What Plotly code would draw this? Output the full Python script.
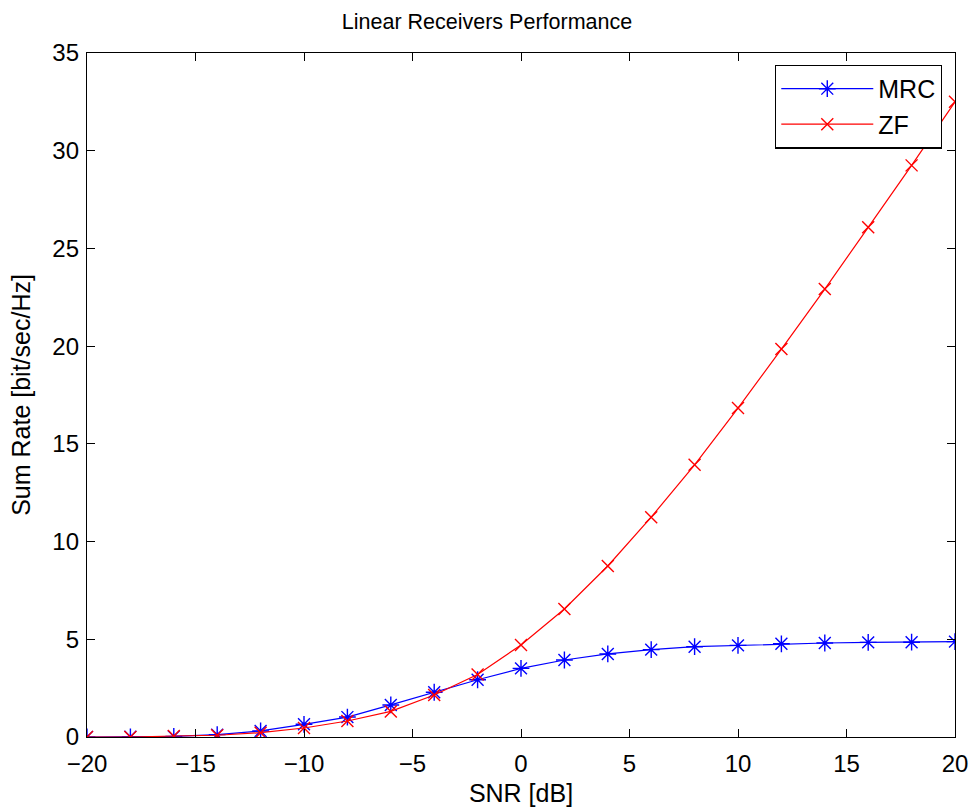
import plotly.graph_objects as go

# SNR sweep in dB
snr_db = [-20, -18, -16, -14, -12, -10, -8, -6, -4, -2, 0,
          2, 4, 6, 8, 10, 12, 14, 16, 18, 20]

# Sum rate [bit/sec/Hz] for each linear receiver
mrc_rate = [0.0, 0.01, 0.03, 0.12, 0.31, 0.65, 1.02, 1.64, 2.29, 2.93, 3.51,
            3.94, 4.25, 4.47, 4.62, 4.69, 4.77, 4.81, 4.84, 4.85, 4.88]
zf_rate = [0.0, 0.0, 0.05, 0.09, 0.22, 0.46, 0.82, 1.31, 2.15, 3.2, 4.71,
           6.55, 8.75, 11.25, 13.93, 16.83, 19.85, 22.92, 26.08, 29.25, 32.5]

x_ticks = [-20, -15, -10, -5, 0, 5, 10, 15, 20]
y_ticks = [0, 5, 10, 15, 20, 25, 30, 35]

FONT = "Liberation Sans, Arial, Helvetica, sans-serif"

fig = go.Figure()
fig.add_trace(go.Scatter(
    x=snr_db, y=mrc_rate, name="MRC", mode="lines+markers",
    line=dict(color="#0000ff", width=1.2),
    marker=dict(symbol="asterisk-open", size=14,
                line=dict(color="#0000ff", width=1.4)),
))
fig.add_trace(go.Scatter(
    x=snr_db, y=zf_rate, name="ZF", mode="lines+markers",
    line=dict(color="#ff0000", width=1.2),
    marker=dict(symbol="x-thin-open", size=12,
                line=dict(color="#ff0000", width=1.4)),
))

axis_common = dict(
    showgrid=False, zeroline=False, showline=True, linecolor="black",
    linewidth=1.3, mirror="ticks", ticks="inside", ticklen=8,
    tickcolor="black", automargin=False,
    tickfont=dict(family=FONT, size=24, color="black"),
)

fig.update_layout(
    width=974, height=810,
    margin=dict(l=87, r=19, t=53, b=73),
    paper_bgcolor="white", plot_bgcolor="white",
    title=dict(text="Linear Receivers Performance", x=0.5, xanchor="center",
               y=1 - 21 / 810, yanchor="middle",
               font=dict(family=FONT, size=21.5, color="black")),
    xaxis=dict(range=[-20, 20], tickvals=x_ticks, ticklabelstandoff=5,
               title=dict(text="SNR [dB]", standoff=8,
                          font=dict(family=FONT, size=25, color="black")),
               **axis_common),
    yaxis=dict(range=[0, 35], tickvals=y_ticks, ticklabelstandoff=2,
               title=dict(text="Sum Rate [bit/sec/Hz]", standoff=14,
                          font=dict(family=FONT, size=25, color="black")),
               **axis_common),
    legend=dict(x=0.985, y=0.983, xanchor="right", yanchor="top",
                bgcolor="white", bordercolor="black", borderwidth=1.3,
                font=dict(family=FONT, size=25, color="black"),
                itemwidth=92, tracegroupgap=0),
    showlegend=True,
)

fig.write_html("out.html")
